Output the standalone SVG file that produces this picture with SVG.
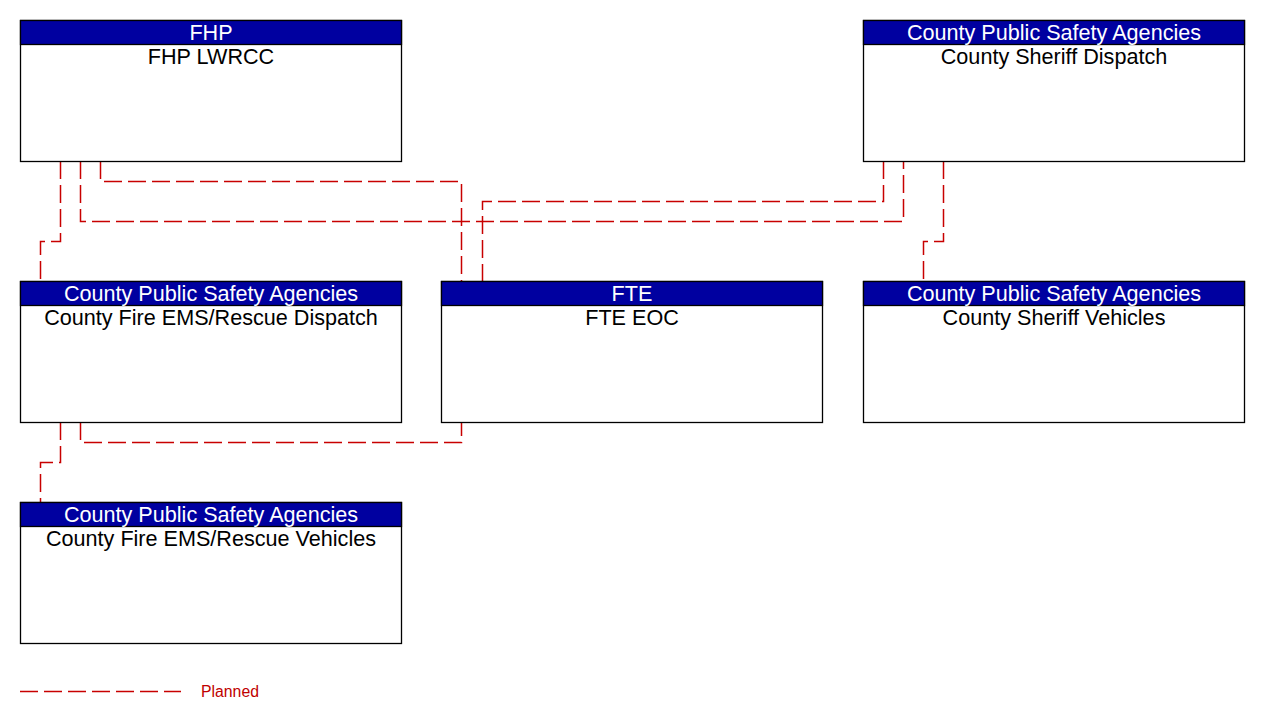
<svg xmlns="http://www.w3.org/2000/svg" width="1261" height="722" viewBox="0 0 1261 722">
<style>
.box{fill:#fff;stroke:#000;stroke-width:1.3}
.hdr{fill:#0000a0;stroke:#000;stroke-width:1.3}
.ht{fill:#fff;font-family:"Liberation Sans",Arial,sans-serif;font-size:21.6px;text-anchor:middle}
.bt{fill:#000;font-family:"Liberation Sans",Arial,sans-serif;font-size:21.6px;text-anchor:middle}
.c{fill:none;stroke:#c80000;stroke-width:1.5;stroke-dasharray:18 6}
.lg{fill:#c00000;font-family:"Liberation Sans",Arial,sans-serif;font-size:15.8px}
</style>
<rect width="1261" height="722" fill="#fff"/>
<g id="connectors">
<path class="c" d="M60.5,161 V241.5 H40.5 V281"/>
<path class="c" d="M80.5,161 V221.5 H903.5 V161"/>
<path class="c" d="M100.5,161 V181.5 H461.5 V281"/>
<path class="c" d="M883.5,161 V201.5 H482.5 V281"/>
<path class="c" d="M943.5,161 V241.5 H923.5 V281"/>
<path class="c" d="M80.5,422 V442.5 H461.5 V422"/>
<path class="c" d="M60.5,422 V462.5 H40.5 V502"/>
</g>
<g id="fhp">
<rect class="box" x="20.5" y="20.5" width="381" height="141"/>
<rect class="hdr" x="20.5" y="20.5" width="381" height="24"/>
<text class="ht" x="211" y="40">FHP</text>
<text class="bt" x="211" y="64">FHP LWRCC</text>
</g>
<g id="sheriff-dispatch">
<rect class="box" x="863.5" y="20.5" width="381" height="141"/>
<rect class="hdr" x="863.5" y="20.5" width="381" height="24"/>
<text class="ht" x="1054" y="40">County Public Safety Agencies</text>
<text class="bt" x="1054" y="64">County Sheriff Dispatch</text>
</g>
<g id="fire-dispatch">
<rect class="box" x="20.5" y="281.5" width="381" height="141"/>
<rect class="hdr" x="20.5" y="281.5" width="381" height="24"/>
<text class="ht" x="211" y="301">County Public Safety Agencies</text>
<text class="bt" x="211" y="325">County Fire EMS/Rescue Dispatch</text>
</g>
<g id="fte-eoc">
<rect class="box" x="441.5" y="281.5" width="381" height="141"/>
<rect class="hdr" x="441.5" y="281.5" width="381" height="24"/>
<text class="ht" x="632" y="301">FTE</text>
<text class="bt" x="632" y="325">FTE EOC</text>
</g>
<g id="sheriff-vehicles">
<rect class="box" x="863.5" y="281.5" width="381" height="141"/>
<rect class="hdr" x="863.5" y="281.5" width="381" height="24"/>
<text class="ht" x="1054" y="301">County Public Safety Agencies</text>
<text class="bt" x="1054" y="325">County Sheriff Vehicles</text>
</g>
<g id="fire-vehicles">
<rect class="box" x="20.5" y="502.5" width="381" height="141"/>
<rect class="hdr" x="20.5" y="502.5" width="381" height="24"/>
<text class="ht" x="211" y="522">County Public Safety Agencies</text>
<text class="bt" x="211" y="546">County Fire EMS/Rescue Vehicles</text>
</g>
<g id="legend">
<line class="c" x1="20" y1="691.5" x2="181" y2="691.5"/>
<text class="lg" x="201" y="697">Planned</text>
</g>
</svg>
